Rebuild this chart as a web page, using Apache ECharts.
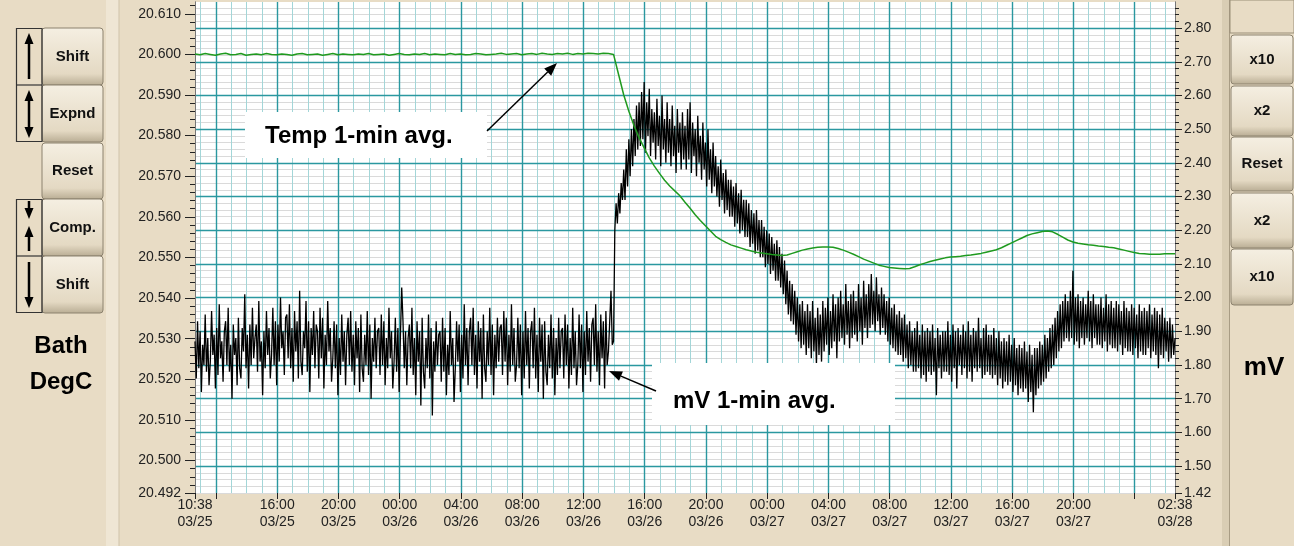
<!DOCTYPE html>
<html>
<head>
<meta charset="utf-8">
<script src="https://cdn.jsdelivr.net/npm/echarts@6/dist/echarts.min.js"></script>
<style>
html, body { margin: 0; padding: 0; background: #e8dcc5; }
#chart { width: 1294px; height: 546px; }
</style>
</head>
<body>
<div id="chart"></div>
<script>
// time is minutes since 03/25 00:00
var T_MIN = 638, T_MAX = 4478;
var TIME_TICKS = [638, 720, 960, 1200, 1440, 1680, 1920, 2160, 2400, 2640, 2880, 3120, 3360, 3600, 3840, 4080, 4320, 4478];
var TIME_LABELS = [638, 960, 1200, 1440, 1680, 1920, 2160, 2400, 2640, 2880, 3120, 3360, 3600, 3840, 4080, 4478];
var TIME_MAJOR = [720, 960, 1200, 1440, 1680, 1920, 2160, 2400, 2640, 2880, 3120, 3360, 3600, 3840, 4080, 4320];

var TEMP_MIN = 20.492, TEMP_MAX = 20.6129;
var TEMP_LABELS = [20.492, 20.500, 20.510, 20.520, 20.530, 20.540, 20.550, 20.560, 20.570, 20.580, 20.590, 20.600, 20.610];
var MV_MIN = 1.42, MV_MAX = 2.8774;
var MV_LABELS = [1.42, 1.50, 1.60, 1.70, 1.80, 1.90, 2.00, 2.10, 2.20, 2.30, 2.40, 2.50, 2.60, 2.70, 2.80];
var MV_GRID = [1.50, 1.60, 1.70, 1.80, 1.90, 2.00, 2.10, 2.20, 2.30, 2.40, 2.50, 2.60, 2.70, 2.80];

// mV 1-min avg, read every 5 min from 10:38 03/25 (one row per hour)
var MV_START = 638, MV_STEP = 5;
var mvValues = [
  1.87, 1.76, 1.93, 1.79, 1.90, 1.72, 1.86, 1.80, 1.95, 1.78, 1.88, 1.74,
  1.81, 1.96, 1.83, 1.89, 1.73, 1.91, 1.77, 1.98, 1.82, 1.87, 1.75, 1.90,
  1.93, 1.80, 1.97, 1.78, 1.86, 1.70, 1.92, 1.83, 1.88, 1.74, 1.94, 1.79,
  1.76, 1.91, 1.84, 2.01, 1.79, 1.89, 1.73, 1.92, 1.80, 1.97, 1.82, 1.88,
  1.92, 1.78, 1.99, 1.81, 1.87, 1.71, 1.90, 1.79, 1.96, 1.83, 1.91, 1.76,
  1.83, 1.97, 1.80, 1.93, 1.74, 1.92, 1.81, 2.00, 1.85, 1.90, 1.77, 1.94,
  1.95, 1.82, 1.98, 1.79, 1.91, 1.75, 1.96, 1.84, 1.93, 1.76, 2.02, 1.81,
  1.77, 1.90, 1.85, 1.99, 1.78, 1.93, 1.72, 1.91, 1.83, 1.96, 1.79, 1.92,
  1.90, 1.76, 1.97, 1.82, 1.94, 1.73, 1.89, 1.80, 1.99, 1.84, 1.91, 1.75,
  1.82, 1.93, 1.79, 1.92, 1.71, 1.88, 1.77, 1.95, 1.81, 1.90, 1.74, 1.89,
  1.94, 1.80, 1.96, 1.78, 1.89, 1.74, 1.93, 1.82, 1.91, 1.72, 1.95, 1.79,
  1.75, 1.89, 1.80, 1.96, 1.77, 1.92, 1.70, 1.88, 1.81, 1.94, 1.79, 1.90,
  1.91, 1.77, 1.95, 1.80, 1.93, 1.74, 1.88, 1.79, 1.97, 1.82, 1.90, 1.73,
  1.81, 1.94, 1.78, 1.91, 1.72, 1.89, 2.03, 1.93, 1.79, 1.90, 1.74, 1.88,
  1.92, 1.79, 1.97, 1.77, 1.88, 1.71, 1.93, 1.81, 1.90, 1.68, 1.94, 1.78,
  1.73, 1.88, 1.79, 1.95, 1.76, 1.91, 1.65, 1.87, 1.78, 1.93, 1.80, 1.89,
  1.90, 1.75, 1.94, 1.78, 1.91, 1.71, 1.86, 1.77, 1.96, 1.80, 1.88, 1.69,
  1.79, 1.93, 1.81, 1.92, 1.72, 1.89, 1.76, 1.98, 1.80, 1.91, 1.74, 1.90,
  1.94, 1.80, 1.97, 1.77, 1.89, 1.73, 1.93, 1.81, 1.91, 1.70, 1.95, 1.79,
  1.75, 1.90, 1.80, 1.97, 1.77, 1.92, 1.71, 1.89, 1.79, 1.94, 1.81, 1.91,
  1.92, 1.77, 1.96, 1.81, 1.94, 1.74, 1.89, 1.78, 1.98, 1.80, 1.91, 1.75,
  1.80, 1.94, 1.79, 1.92, 1.71, 1.90, 1.76, 1.96, 1.80, 1.91, 1.73, 1.90,
  1.93, 1.79, 1.97, 1.76, 1.89, 1.72, 1.94, 1.81, 1.92, 1.70, 1.93, 1.78,
  1.74, 1.89, 1.79, 1.95, 1.76, 1.91, 1.71, 1.88, 1.77, 1.94, 1.79, 1.90,
  1.91, 1.76, 1.95, 1.80, 1.92, 1.73, 1.88, 1.77, 1.97, 1.79, 1.90, 1.74,
  1.80, 1.95, 1.79, 1.92, 1.72, 1.90, 1.77, 1.96, 1.81, 1.91, 1.75, 1.92,
  1.94, 1.80, 1.98, 1.78, 1.90, 1.74, 1.95, 1.82, 1.93, 1.73, 1.96, 1.80,
  1.84, 1.93, 2.02, 1.86, 1.87, 2.20, 2.28, 2.22, 2.31, 2.25, 2.34, 2.29,
  2.38, 2.29, 2.44, 2.33, 2.47, 2.36, 2.50, 2.39, 2.53, 2.42, 2.57, 2.44,
  2.58, 2.45, 2.61, 2.47, 2.64, 2.43, 2.58, 2.48, 2.62, 2.42, 2.56, 2.46,
  2.55, 2.41, 2.59, 2.45, 2.54, 2.39, 2.60, 2.44, 2.53, 2.40, 2.58, 2.43,
  2.53, 2.39, 2.57, 2.42, 2.51, 2.37, 2.56, 2.43, 2.52, 2.38, 2.55, 2.41,
  2.51, 2.38, 2.56, 2.41, 2.58, 2.37, 2.52, 2.42, 2.50, 2.36, 2.54, 2.40,
  2.48, 2.35, 2.52, 2.38, 2.46, 2.33, 2.50, 2.35, 2.44, 2.31, 2.46, 2.33,
  2.42, 2.30, 2.39, 2.27, 2.41, 2.29, 2.37, 2.25, 2.38, 2.26, 2.35, 2.24,
  2.35, 2.24, 2.33, 2.21, 2.34, 2.22, 2.31, 2.19, 2.32, 2.20, 2.29, 2.18,
  2.29, 2.18, 2.28, 2.15, 2.26, 2.16, 2.25, 2.13, 2.26, 2.14, 2.23, 2.12,
  2.23, 2.12, 2.21, 2.09, 2.20, 2.10, 2.19, 2.07, 2.18, 2.08, 2.16, 2.05,
  2.17, 2.05, 2.15, 2.03, 2.13, 2.01, 2.11, 1.98, 2.08, 1.95, 2.05, 1.93,
  2.04, 1.92, 2.02, 1.89, 2.00, 1.87, 1.98, 1.85, 1.99, 1.86, 1.96, 1.83,
  1.98, 1.85, 1.96, 1.82, 1.99, 1.84, 1.94, 1.80, 1.97, 1.83, 1.95, 1.81,
  1.99, 1.84, 1.97, 1.86, 2.00, 1.83, 1.96, 1.85, 2.01, 1.87, 1.98, 1.82,
  2.00, 1.87, 2.02, 1.88, 1.98, 1.86, 2.04, 1.89, 1.99, 1.85, 2.01, 1.88,
  2.02, 1.89, 1.99, 1.87, 2.04, 1.90, 2.00, 1.86, 2.05, 1.91, 2.01, 1.88,
  2.04, 1.91, 2.07, 1.92, 2.02, 1.90, 2.06, 1.93, 2.01, 1.89, 2.03, 1.91,
  2.01, 1.89, 1.99, 1.87, 2.00, 1.86, 1.97, 1.85, 1.98, 1.84, 1.95, 1.83,
  1.96, 1.83, 1.94, 1.81, 1.95, 1.82, 1.92, 1.79, 1.93, 1.80, 1.90, 1.78,
  1.91, 1.78, 1.93, 1.79, 1.89, 1.76, 1.92, 1.77, 1.90, 1.75, 1.91, 1.78,
  1.90, 1.77, 1.92, 1.78, 1.88, 1.71, 1.91, 1.79, 1.89, 1.76, 1.90, 1.78,
  1.90, 1.78, 1.93, 1.77, 1.89, 1.75, 1.92, 1.79, 1.90, 1.73, 1.91, 1.80,
  1.89, 1.77, 1.92, 1.79, 1.90, 1.76, 1.93, 1.78, 1.89, 1.75, 1.91, 1.79,
  1.90, 1.78, 1.94, 1.79, 1.88, 1.76, 1.91, 1.77, 1.92, 1.78, 1.89, 1.77,
  1.89, 1.76, 1.91, 1.77, 1.88, 1.74, 1.90, 1.76, 1.87, 1.73, 1.88, 1.75,
  1.87, 1.74, 1.89, 1.75, 1.86, 1.72, 1.88, 1.74, 1.85, 1.71, 1.86, 1.73,
  1.85, 1.72, 1.87, 1.73, 1.84, 1.69, 1.86, 1.72, 1.83, 1.66, 1.85, 1.71,
  1.85, 1.73, 1.87, 1.74, 1.86, 1.75, 1.89, 1.76, 1.88, 1.78, 1.91, 1.79,
  1.92, 1.80, 1.94, 1.82, 1.96, 1.84, 1.98, 1.85, 1.99, 1.87, 2.01, 1.88,
  1.99, 1.87, 2.02, 1.88, 2.08, 1.86, 2.00, 1.87, 2.01, 1.85, 1.99, 1.88,
  2.00, 1.86, 1.98, 1.88, 2.02, 1.87, 1.99, 1.85, 2.01, 1.88, 1.98, 1.86,
  1.98, 1.86, 2.00, 1.85, 1.97, 1.87, 2.01, 1.84, 1.98, 1.86, 1.99, 1.85,
  1.97, 1.85, 1.99, 1.84, 1.98, 1.86, 1.96, 1.83, 1.99, 1.85, 1.97, 1.84,
  1.96, 1.84, 1.98, 1.83, 1.97, 1.85, 1.95, 1.82, 1.98, 1.84, 1.96, 1.83,
  1.97, 1.83, 1.96, 1.85, 1.98, 1.82, 1.95, 1.84, 1.97, 1.83, 1.96, 1.79,
  1.95, 1.83, 1.97, 1.82, 1.94, 1.84, 1.93, 1.81, 1.94, 1.82, 1.92, 1.83,
  1.88
];

// bath temperature 1-min avg, read every 20 min from 10:38 03/25
var TEMP_START = 638, TEMP_STEP = 20;
var tempValues = [
  20.6001, 20.5999, 20.6002, 20.6000, 20.5998, 20.6001, 20.6003, 20.5999, 20.6000, 20.6002,
  20.5998, 20.6000, 20.6001, 20.5999, 20.6002, 20.6000, 20.5999, 20.6001, 20.6000, 20.5998,
  20.6001, 20.6002, 20.5999, 20.6000, 20.6001, 20.5998, 20.6000, 20.6002, 20.5999, 20.6001,
  20.6000, 20.5999, 20.6001, 20.6000, 20.6002, 20.5999, 20.6000, 20.6001, 20.5998, 20.6000,
  20.6002, 20.6000, 20.5999, 20.6001, 20.6000, 20.6002, 20.5999, 20.6001, 20.6000, 20.5999,
  20.6002, 20.6000, 20.6001, 20.5999, 20.6000, 20.6002, 20.6001, 20.5999, 20.6000, 20.6001,
  20.6003, 20.6000, 20.6001, 20.6002, 20.5999, 20.6001, 20.6002, 20.6000, 20.6003, 20.6001,
  20.6000, 20.6002, 20.6001, 20.6003, 20.6000, 20.6002, 20.6001, 20.6003, 20.6002, 20.6001,
  20.6003, 20.6002, 20.6000,
  20.5950, 20.5900, 20.5860, 20.5825, 20.5795, 20.5770, 20.5745, 20.5725, 20.5707, 20.5690,
  20.5676, 20.5664, 20.5652, 20.5636, 20.5621, 20.5605, 20.5591, 20.5578, 20.5565, 20.5552,
  20.5544, 20.5537, 20.5531, 20.5527, 20.5523, 20.5519, 20.5516, 20.5513, 20.5511, 20.5509,
  20.5507, 20.5506, 20.5505, 20.5506, 20.5510, 20.5514, 20.5518, 20.5521, 20.5523, 20.5525,
  20.5526, 20.5526, 20.5525, 20.5522, 20.5518, 20.5513, 20.5508, 20.5502, 20.5496, 20.5491,
  20.5486, 20.5481, 20.5478, 20.5475, 20.5474, 20.5473, 20.5472, 20.5473, 20.5477, 20.5482,
  20.5486, 20.5490, 20.5493, 20.5496, 20.5499, 20.5501, 20.5502, 20.5503, 20.5505, 20.5506,
  20.5508, 20.5510, 20.5513, 20.5516, 20.5519, 20.5524, 20.5530, 20.5536, 20.5542, 20.5548,
  20.5554, 20.5558, 20.5561, 20.5564, 20.5565, 20.5563, 20.5557, 20.5550, 20.5543, 20.5538,
  20.5535, 20.5533, 20.5531, 20.5530, 20.5528, 20.5527, 20.5525, 20.5524, 20.5521, 20.5518,
  20.5515, 20.5512, 20.5510, 20.5509, 20.5508, 20.5508, 20.5508, 20.5509, 20.5509, 20.5509
];

var LEFT_BUTTONS = ['Shift', 'Expnd', 'Reset', 'Comp.', 'Shift'];
var RIGHT_BUTTONS = ['x10', 'x2', 'Reset', 'x2', 'x10'];

var FONT = 'Liberation Sans, Arial, sans-serif';

function pad(n) { return (n < 10 ? '0' : '') + n; }
function fmtTime(m) {
  var day = 25 + Math.floor(m / 1440);
  var r = Math.round(m) % 1440;
  return pad(Math.floor(r / 60)) + ':' + pad(r % 60) + '\n03/' + day;
}
function toPairs(start, step, vals) {
  return vals.map(function (v, i) { return [start + i * step, v]; });
}

var hourLines = [];
for (var t = 660; t <= 4440; t += 60) hourLines.push(t);
var tempTicks = [];
for (var k = 0; k <= 60; k++) tempTicks.push(Math.round((20.492 + k * 0.002) * 1000) / 1000);
var mvTicks = [];
for (var j = 0; j <= 72; j++) mvTicks.push(Math.round((1.42 + j * 0.02) * 100) / 100);

var chart = echarts.init(document.getElementById('chart'));

// bevelled button
function button(x, y, w, h, label) {
  return {
    type: 'group',
    children: [
      { type: 'rect', shape: { x: x, y: y, width: w, height: h, r: 3 },
        style: { fill: { type: 'linear', x: 0, y: 0, x2: 0, y2: 1, colorStops: [
          { offset: 0, color: '#f5efe2' }, { offset: 0.8, color: '#e4d9c3' }, { offset: 1, color: '#b8ac93' }] },
          stroke: '#8c826e', lineWidth: 1 } },
      { type: 'text', style: { x: x + w / 2, y: y + h / 2, text: label, align: 'center', verticalAlign: 'middle',
          font: 'bold 15px ' + FONT, fill: '#111' } }
    ]
  };
}
function arrowHead(tx, ty, dir) {
  // dir: 1 = pointing down, -1 = pointing up
  return { type: 'polygon', shape: { points: [[tx, ty], [tx - 4.5, ty - dir * 11], [tx + 4.5, ty - dir * 11]] },
    style: { fill: '#000' } };
}
function shaft(x, y1, y2) {
  return { type: 'line', shape: { x1: x, y1: y1, x2: x, y2: y2 }, style: { stroke: '#000', lineWidth: 2.5 } };
}
function pointer(x1, y1, x2, y2) {
  var a = Math.atan2(y2 - y1, x2 - x1), L = 13, W = 5;
  var bx = x2 - L * Math.cos(a), by = y2 - L * Math.sin(a);
  return [
    { type: 'line', z: 20, shape: { x1: x1, y1: y1, x2: bx, y2: by }, style: { stroke: '#000', lineWidth: 1.5 } },
    { type: 'polygon', z: 20, shape: { points: [[x2, y2],
      [bx + W * Math.sin(a), by - W * Math.cos(a)], [bx - W * Math.sin(a), by + W * Math.cos(a)]] },
      style: { fill: '#000' } }
  ];
}

var graphics = [];
// panel frames
graphics.push({ type: 'rect', z: -10, shape: { x: 106, y: 0, width: 13, height: 546 }, style: { fill: '#efe6d4' } });
graphics.push({ type: 'line', z: -10, shape: { x1: 119, y1: 0, x2: 119, y2: 546 }, style: { stroke: '#cfc3aa', lineWidth: 1 } });
graphics.push({ type: 'rect', z: -10, shape: { x: 1222, y: 0, width: 8, height: 546 }, style: { fill: '#d9cdb4' } });
graphics.push({ type: 'line', z: -10, shape: { x1: 1229.5, y1: 0, x2: 1229.5, y2: 546 }, style: { stroke: '#a89c84', lineWidth: 1 } });
graphics.push({ type: 'rect', z: -9, shape: { x: 1230, y: 0, width: 64, height: 33 }, style: { fill: '#e8dcc5', stroke: '#9a8f79', lineWidth: 1 } });

// left buttons
var leftY = [[28, 57], [85, 57], [143, 56], [199, 57], [256, 57]];
LEFT_BUTTONS.forEach(function (b, i) { graphics.push(button(42, leftY[i][0], 61, leftY[i][1], b)); });
graphics.push({ type: 'rect', shape: { x: 16.5, y: 28.5, width: 25.5, height: 113 }, style: { fill: 'none', stroke: '#333', lineWidth: 1.2 } });
graphics.push({ type: 'line', shape: { x1: 16.5, y1: 85, x2: 42, y2: 85 }, style: { stroke: '#333', lineWidth: 1.2 } });
graphics.push({ type: 'rect', shape: { x: 16.5, y: 199.5, width: 25.5, height: 113 }, style: { fill: 'none', stroke: '#333', lineWidth: 1.2 } });
graphics.push({ type: 'line', shape: { x1: 16.5, y1: 256, x2: 42, y2: 256 }, style: { stroke: '#333', lineWidth: 1.2 } });
// arrows in the left boxes
graphics.push(shaft(29, 44, 79), arrowHead(29, 33, -1));
graphics.push(shaft(29, 100, 128), arrowHead(29, 90, -1), arrowHead(29, 138, 1));
graphics.push(shaft(29, 201, 208), arrowHead(29, 219, 1), arrowHead(29, 226, -1), shaft(29, 236, 251));
graphics.push(shaft(29, 262, 298), arrowHead(29, 308, 1));
graphics.push({ type: 'text', style: { x: 61, y: 346, text: 'Bath', align: 'center', verticalAlign: 'middle', font: 'bold 24px ' + FONT, fill: '#000' } });
graphics.push({ type: 'text', style: { x: 61, y: 382, text: 'DegC', align: 'center', verticalAlign: 'middle', font: 'bold 24px ' + FONT, fill: '#000' } });

// right buttons
var rightY = [[35, 49], [86, 50], [137, 54], [193, 55], [249, 56]];
RIGHT_BUTTONS.forEach(function (b, i) { graphics.push(button(1231, rightY[i][0], 62, rightY[i][1], b)); });
graphics.push({ type: 'text', style: { x: 1264, y: 368, text: 'mV', align: 'center', verticalAlign: 'middle', font: 'bold 26px ' + FONT, fill: '#000' } });

// annotations
graphics.push({ type: 'rect', z: 15, shape: { x: 245, y: 112, width: 242, height: 46 }, style: { fill: '#fff' } });
graphics.push({ type: 'text', z: 16, style: { x: 265, y: 136, text: 'Temp 1-min avg.', verticalAlign: 'middle', font: 'bold 24px ' + FONT, fill: '#000' } });
graphics = graphics.concat(pointer(487, 131, 557, 63));
graphics.push({ type: 'rect', z: 15, shape: { x: 652, y: 363, width: 243, height: 62 }, style: { fill: '#fff' } });
graphics.push({ type: 'text', z: 16, style: { x: 673, y: 401, text: 'mV 1-min avg.', verticalAlign: 'middle', font: 'bold 24px ' + FONT, fill: '#000' } });
graphics = graphics.concat(pointer(656, 391, 609, 371));

function hiddenAxis(base, values, color, width, z) {
  return echarts.util.extend(base, {
    z: z,
    axisLine: { show: false },
    axisTick: { show: false, customValues: values },
    axisLabel: { show: false },
    splitLine: { show: true, lineStyle: { color: color, width: width } }
  });
}
function tickAxis(base, ticks, len, labels, fmt, margin) {
  return echarts.util.extend(base, {
    z: 3,
    axisLine: { show: true, lineStyle: { color: '#777', width: 1 } },
    axisTick: { show: true, customValues: ticks, length: len, lineStyle: { color: '#222' } },
    axisLabel: labels ? { customValues: labels, formatter: fmt, color: '#222', fontSize: 14, fontFamily: FONT, margin: margin }
                      : { show: false },
    splitLine: { show: false }
  });
}

var option = {
  backgroundColor: '#e8dcc5',
  animation: false,
  grid: { left: 195, top: 2, width: 980, height: 491, show: true, backgroundColor: '#ffffff', borderWidth: 0 },
  xAxis: [
    {
      type: 'value', min: T_MIN, max: T_MAX, position: 'bottom', z: 3,
      axisLine: { show: false },
      axisTick: { show: true, customValues: TIME_TICKS, length: 6, lineStyle: { color: '#222' } },
      axisLabel: { customValues: TIME_LABELS, formatter: fmtTime, color: '#222', fontSize: 14,
        fontFamily: FONT, lineHeight: 17, margin: 4 },
      splitLine: { show: false }
    },
    hiddenAxis({ type: 'value', min: T_MIN, max: T_MAX }, TIME_MAJOR, '#2a98a0', 1.4, 2),
    hiddenAxis({ type: 'value', min: T_MIN, max: T_MAX }, hourLines, '#a3d6d8', 1, 1)
  ],
  yAxis: [
    tickAxis({ type: 'value', position: 'left', min: TEMP_MIN, max: TEMP_MAX }, tempTicks, 5),
    tickAxis({ type: 'value', position: 'right', min: MV_MIN, max: MV_MAX }, mvTicks, 4),
    tickAxis({ type: 'value', position: 'left', min: TEMP_MIN, max: TEMP_MAX }, TEMP_LABELS, 10, TEMP_LABELS,
      function (v) { return v.toFixed(3); }, 14),
    tickAxis({ type: 'value', position: 'right', min: MV_MIN, max: MV_MAX }, MV_LABELS, 7, MV_LABELS,
      function (v) { return v.toFixed(2); }, 9),
    hiddenAxis({ type: 'value', position: 'right', min: MV_MIN, max: MV_MAX }, MV_GRID, '#2a98a0', 1.4, 2),
    hiddenAxis({ type: 'value', position: 'right', min: MV_MIN, max: MV_MAX }, mvTicks, '#dadada', 1, 0)
  ],
  series: [
    {
      name: 'mV 1-min avg.', type: 'line', xAxisIndex: 0, yAxisIndex: 1,
      data: toPairs(MV_START, MV_STEP, mvValues),
      showSymbol: false, sampling: null, lineStyle: { color: '#000', width: 1.3 }, z: 5
    },
    {
      name: 'Temp 1-min avg.', type: 'line', xAxisIndex: 0, yAxisIndex: 0,
      data: toPairs(TEMP_START, TEMP_STEP, tempValues),
      showSymbol: false, lineStyle: { color: '#1f9a1f', width: 1.5 }, z: 6
    }
  ],
  graphic: graphics
};

chart.setOption(option);
window.addEventListener('resize', function () { chart.resize(); });
</script>
</body>
</html>
